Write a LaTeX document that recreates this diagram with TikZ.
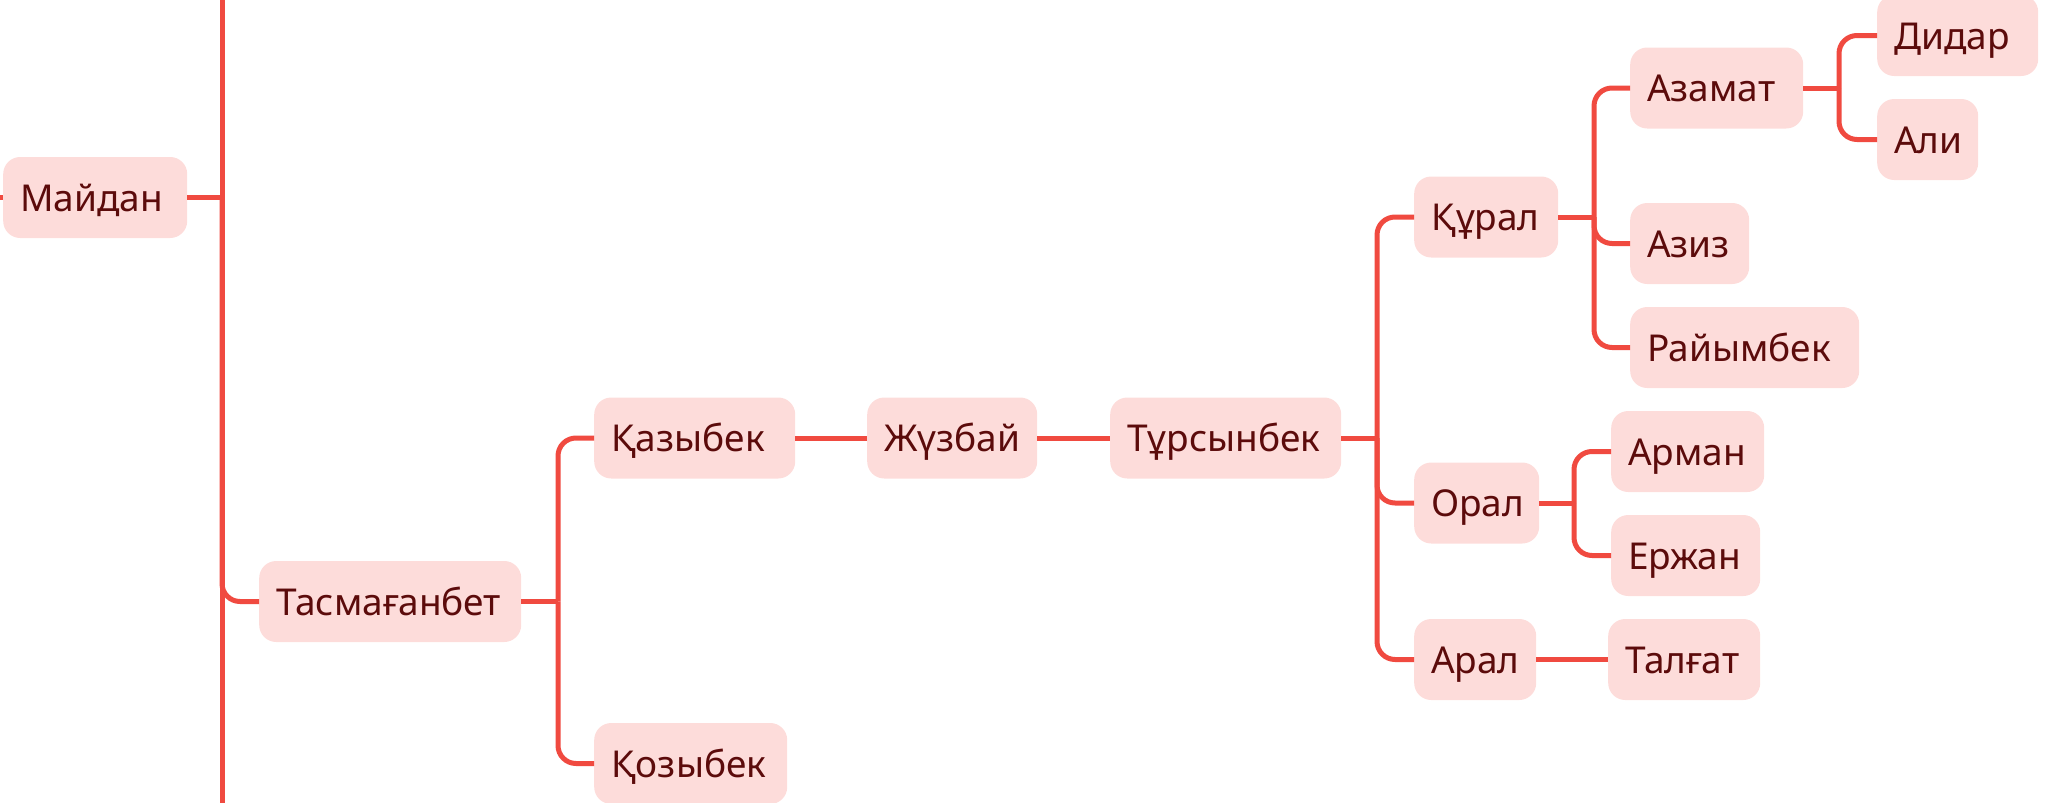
\documentclass[tikz,border=0pt]{standalone}
\usepackage{fontspec}
\setmainfont{Noto Sans}
\definecolor{linkred}{HTML}{F04A40}
\definecolor{boxpink}{HTML}{FDDCDA}
\definecolor{namered}{HTML}{5C0B0B}
\newcommand{\pad}{17pt}

\begin{document}
\begin{tikzpicture}[x=1pt,y=-1pt,
    person/.style={fill=boxpink, text=namered, rounded corners=17pt, anchor=west, minimum height=81pt, inner xsep=\pad, inner ysep=0pt, text height=27pt, text depth=0pt, align=left, font=\fontsize{37}{40}\selectfont},
    link/.style={draw=linkred, line width=5pt, rounded corners=18pt}]
    \path[use as bounding box] (0,0) rectangle (2064,803);
    \clip (0,0) rectangle (2064,803);

    % Left part
    \node[person, text width=150pt] (maidan) at (3,197.5) {Майдан};
    \node[person, text width=228pt] (tasmaganbet) at (259,601.5) {Тасмағанбет};
    \node[person, text width=167pt] (kazybek) at (594,438) {Қазыбек};
    \node[person, text width=159pt] (kozybek) at (594,763.5) {Қозыбек};
    \node[person, text width=136pt] (zhuzbai) at (867,438) {Жүзбай};
    \node[person, text width=197pt] (tursynbek) at (1110,438) {Тұрсынбек};

    % Right part
    \node[person, text width=110pt] (kural) at (1414,217) {Құрал};
    \node[person, text width=91pt] (oral) at (1414,503) {Орал};
    \node[person, text width=88pt] (aral) at (1414,659.5) {Арал};
    \node[person, text width=139pt] (azamat) at (1630,88) {Азамат};
    \node[person, text width=85pt] (aziz) at (1630,243.5) {Азиз};
    \node[person, text width=195pt] (raiymbek) at (1630,347.5) {Райымбек};
    \node[person, text width=127pt] (didar) at (1877,35.5) {Дидар};
    \node[person, text width=67pt] (ali) at (1877,139.5) {Али};
    \node[person, text width=119pt] (arman) at (1611,451.5) {Арман};
    \node[person, text width=115pt] (erzhan) at (1611,555.5) {Ержан};
    \node[person, text width=118pt] (talgat) at (1608,659.5) {Талғат};

    % Junctions
    \coordinate (top) at (222,-10);
    \coordinate (bottom) at (222,815);
    \coordinate (stub) at (-10,197.5);
    \coordinate (j1) at (222,197.5);
    \coordinate (j2) at (558,601.5);
    \coordinate (j3) at (1377,438);
    \coordinate (j4) at (1594,217);
    \coordinate (j5) at (1839,88);
    \coordinate (j6) at (1574,503);

    \draw[link] (top) -- (bottom);
    \draw[link] (stub) -- (maidan.west);
    \draw[link] (maidan.east) -- (j1);
    \draw[link] (j1) |- (tasmaganbet.west);

    \draw[link] (tasmaganbet.east) -- (j2);
    \draw[link] (j2) |- (kazybek.west);
    \draw[link] (j2) |- (kozybek.west);
    \draw[link] (kazybek) -- (zhuzbai);
    \draw[link] (zhuzbai) -- (tursynbek);

    \draw[link] (tursynbek.east) -- (j3);
    \draw[link] (j3) |- (kural.west);
    \draw[link] (j3) |- (oral.west);
    \draw[link] (j3) |- (aral.west);

    \draw[link] (kural.east) -- (j4);
    \draw[link] (j4) |- (azamat.west);
    \draw[link] (j4) |- (aziz.west);
    \draw[link] (j4) |- (raiymbek.west);

    \draw[link] (azamat.east) -- (j5);
    \draw[link] (j5) |- (didar.west);
    \draw[link] (j5) |- (ali.west);

    \draw[link] (oral.east) -- (j6);
    \draw[link] (j6) |- (arman.west);
    \draw[link] (j6) |- (erzhan.west);

    \draw[link] (aral) -- (talgat);

\end{tikzpicture}
\end{document}
